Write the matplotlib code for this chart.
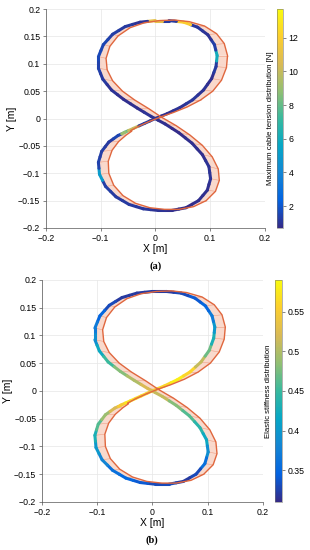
import matplotlib
matplotlib.use("Agg")
import matplotlib.pyplot as plt
import numpy as np
from matplotlib.collections import LineCollection, PolyCollection
from matplotlib.colors import LinearSegmentedColormap, Normalize
from matplotlib.ticker import FormatStrFormatter

plt.rcParams["font.family"] = ["Liberation Sans", "DejaVu Sans"]

# measured end-effector path (same sample index as the reference path)
actual_x = [-0.058, -0.040, -0.020, 0.000, 0.022, 0.045, 0.068, 0.088, 0.103, 0.111,
            0.113, 0.108, 0.096, 0.077, 0.052, 0.025, 0.000, -0.028, -0.055, -0.078,
            -0.095, -0.104, -0.104, -0.096, -0.080, -0.058, -0.033, -0.008, 0.018, 0.043,
            0.067, 0.086, 0.098, 0.101, 0.095, 0.079, 0.056, 0.030, 0.005, -0.022,
            -0.048, -0.072, -0.091, -0.102, -0.104, -0.098, -0.085, -0.068, -0.055]
actual_y = [-0.026, -0.018, -0.009, 0.000, 0.009, 0.020, 0.034, 0.052, 0.073, 0.095,
            0.115, 0.135, 0.153, 0.167, 0.176, 0.179, 0.179, 0.176, 0.168, 0.154,
            0.135, 0.113, 0.092, 0.072, 0.052, 0.035, 0.019, 0.004, -0.010, -0.026,
            -0.045, -0.066, -0.088, -0.110, -0.131, -0.150, -0.163, -0.168, -0.168, -0.165,
            -0.157, -0.143, -0.124, -0.102, -0.080, -0.060, -0.043, -0.031, -0.025]

# desired reference path
ref_x = [-0.045, -0.030, -0.010, 0.010, 0.033, 0.058, 0.083, 0.105, 0.121, 0.130,
         0.132, 0.126, 0.112, 0.090, 0.062, 0.035, 0.008, -0.020, -0.046, -0.068,
         -0.083, -0.090, -0.088, -0.078, -0.060, -0.038, -0.012, 0.012, 0.038, 0.063,
         0.086, 0.104, 0.115, 0.117, 0.110, 0.093, 0.070, 0.043, 0.017, -0.010,
         -0.036, -0.059, -0.076, -0.085, -0.086, -0.079, -0.067, -0.053, -0.043]
ref_y = [-0.022, -0.014, -0.005, 0.003, 0.011, 0.021, 0.034, 0.050, 0.070, 0.093,
         0.115, 0.137, 0.155, 0.169, 0.177, 0.180, 0.179, 0.175, 0.166, 0.151,
         0.132, 0.110, 0.089, 0.069, 0.050, 0.034, 0.018, 0.002, -0.013, -0.030,
         -0.049, -0.070, -0.092, -0.113, -0.133, -0.150, -0.161, -0.166, -0.166, -0.163,
         -0.155, -0.141, -0.122, -0.100, -0.078, -0.058, -0.042, -0.030, -0.023]

# panel (a): maximum cable tension [N]
tension = [8.0, 10.0, 1.2, 1.0, 0.9, 1.0, 1.1, 1.0, 0.9, 1.2,
           6.0, 1.3, 1.0, 1.1, 12.0, 1.2, 11.0, 1.0, 1.2, 1.3,
           1.5, 1.6, 1.4, 1.2, 1.0, 0.9, 0.9, 1.0, 0.9, 0.8,
           0.9, 0.9, 1.0, 1.0, 0.9, 0.9, 0.8, 0.9, 1.0, 1.1,
           1.2, 1.2, 1.3, 5.0, 1.4, 1.3, 1.2, 1.5, 9.0]

# panel (b): elastic stiffness
stiffness = [0.55, 0.57, 0.56, 0.55, 0.56, 0.58, 0.56, 0.51, 0.47, 0.43,
             0.40, 0.37, 0.35, 0.34, 0.33, 0.32, 0.32, 0.32, 0.32, 0.33,
             0.35, 0.37, 0.39, 0.42, 0.45, 0.48, 0.50, 0.52, 0.51, 0.48,
             0.46, 0.44, 0.42, 0.39, 0.36, 0.33, 0.32, 0.33, 0.33, 0.34,
             0.35, 0.36, 0.38, 0.40, 0.43, 0.46, 0.49, 0.52, 0.55]

x_ticks = [-0.2, -0.1, 0, 0.1, 0.2]
y_ticks = [-0.2, -0.15, -0.1, -0.05, 0, 0.05, 0.1, 0.15, 0.2]

parula = LinearSegmentedColormap.from_list("parula", [
    "#352a87", "#0363e1", "#1485d4", "#06a7c6", "#38b99e",
    "#92bf73", "#d9ba56", "#fcce2e", "#f9fb0e"])


def tick_text(v):
    s = f"{abs(v):g}"
    return "\u2212" + s if v < 0 else s


def draw_panel(fig, ax_rect, cb_rect, values, vmin, vmax, cb_ticks, cb_label, caption):
    ax = fig.add_axes(ax_rect)
    ax.set_xlim(-0.2, 0.2)
    ax.set_ylim(-0.2, 0.2)
    ax.set_xticks(x_ticks)
    ax.set_yticks(y_ticks)
    ax.set_xticklabels([tick_text(v) for v in x_ticks])
    ax.set_yticklabels([tick_text(v) for v in y_ticks])
    ax.grid(True, color="#e6e6e6", lw=0.5)
    ax.set_axisbelow(True)
    for side in ["top", "right"]:
        ax.spines[side].set_visible(False)
    for side in ["left", "bottom"]:
        ax.spines[side].set_color("#555555")
        ax.spines[side].set_linewidth(0.5)
    ax.tick_params(labelsize=6.3, length=2, width=0.5, color="#555555", pad=2)
    ax.set_xlabel("X [m]", fontsize=7.5, labelpad=1)
    ax.set_ylabel("Y [m]", fontsize=7.5, labelpad=1)

    act = np.column_stack([actual_x, actual_y])
    ref = np.column_stack([ref_x, ref_y])

    # shaded error band between the paths
    quads = [[act[i], act[i + 1], ref[i + 1], ref[i]] for i in range(len(act) - 1)]
    ax.add_collection(PolyCollection(quads, facecolor="#f9d3c4", edgecolor="none", alpha=0.85))
    links = [[act[i], ref[i]] for i in range(len(act))]
    ax.add_collection(LineCollection(links, colors="#ee9c80", linewidths=0.4))

    # colour each half-segment with the value of its nearest sample
    norm = Normalize(vmin, vmax)
    segs, seg_vals = [], []
    for i in range(len(act) - 1):
        mid = (act[i] + act[i + 1]) / 2
        segs += [[act[i], mid], [mid, act[i + 1]]]
        seg_vals += [values[i], values[i + 1]]
    lc = LineCollection(segs, cmap=parula, norm=norm, linewidths=2.2,
                        capstyle="round", joinstyle="round")
    lc.set_array(np.array(seg_vals))
    ax.add_collection(lc)

    ax.plot(ref_x, ref_y, color="#e0673e", lw=1.0, solid_capstyle="round",
            solid_joinstyle="round")

    cax = fig.add_axes(cb_rect)
    cb = fig.colorbar(lc, cax=cax, ticks=cb_ticks)
    cb.ax.set_yticklabels([f"{t:g}" for t in cb_ticks])
    cb.outline.set_linewidth(0.4)
    cb.outline.set_edgecolor("#777777")
    cax.tick_params(labelsize=6.3, length=2, width=0.5, color="#555555", pad=2)
    cax.yaxis.set_label_position("left")
    cb.set_label(cb_label, fontsize=5.6, labelpad=2)

    fig.text(ax_rect[0] + ax_rect[2] / 2, ax_rect[1] - 0.07, caption,
             ha="center", va="center", fontsize=7.5, fontweight="bold",
             family="Liberation Serif")
    return ax


fig = plt.figure(figsize=(3.1, 5.5), dpi=100)

draw_panel(fig, [0.148, 0.5855, 0.706, 0.398], [0.894, 0.5855, 0.019, 0.398],
           tension, 0.7, 13.7, [2, 4, 6, 8, 10, 12],
           "Maximum cable tension distribution [N]", "(a)")
draw_panel(fig, [0.135, 0.0873, 0.713, 0.404], [0.887, 0.0873, 0.0226, 0.404],
           stiffness, 0.31, 0.59, [0.35, 0.4, 0.45, 0.5, 0.55],
           "Elastic stiffness distribution", "(b)")

fig.savefig("out.png", dpi=100)
